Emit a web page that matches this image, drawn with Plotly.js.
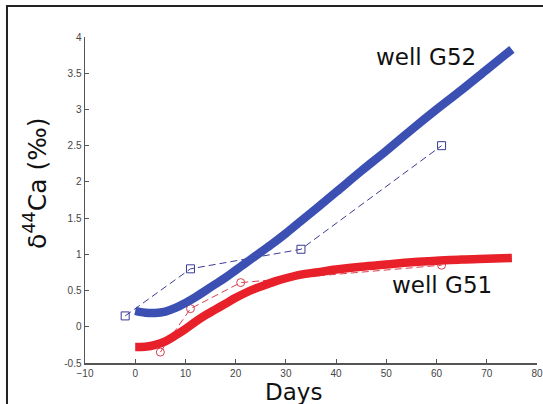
<!DOCTYPE html>
<html>
<head>
<meta charset="utf-8">
<script src="https://cdn.plot.ly/plotly-3.0.1.min.js"></script>
<style>html,body{margin:0;padding:0;background:#fff;}#chart{width:543px;height:404px;}</style>
</head>
<body>
<div id="chart"></div>
<script>
// Fitted model curves
const fitDays = [0,2,4,6,8,10,12,14,16,18,20,22,24,27,30,33,36,40,45,50,55,60,65,70,75];
const g52Fit = [0.22,0.195,0.19,0.21,0.26,0.33,0.41,0.5,0.59,0.68,0.78,0.88,0.98,1.13,1.29,1.46,1.63,1.86,2.15,2.43,2.72,3.0,3.27,3.55,3.83];
const fitDaysR = [0,2,4,6,8,10,12,14,16,18,20,22,24,26,28,30,33,36,40,45,50,55,60,65,70,75];
const g51Fit = [-0.28,-0.275,-0.25,-0.2,-0.12,-0.03,0.07,0.16,0.24,0.32,0.4,0.47,0.53,0.58,0.63,0.67,0.72,0.75,0.79,0.83,0.86,0.89,0.91,0.93,0.94,0.95];
// Measured values
const g52Days = [-2,11,33,61];
const g52Meas = [0.15,0.8,1.07,2.5];
const g51Days = [5,11,21,61];
const g51Meas = [-0.35,0.25,0.61,0.85];
const xTicks = [-10,0,10,20,30,40,50,60,70,80];
const yTicks = [-0.5,0,0.5,1,1.5,2,2.5,3,3.5,4];
const yTickText = ['-0.5','0','0.5','1','1.5','2','2.5','3','3.5','4'];
const xTitle = 'Days';
const yTitle = 'δ<sup>44</sup>Ca (‰)';
const labelG52 = 'well G52';
const labelG51 = 'well G51';

const blue = '#3c50b4';
const red = '#e8202a';
const bigFont = 'DejaVu Sans, Arial, sans-serif';

const traces = [
  {x: g52Days, y: g52Meas, mode: 'lines+markers', line: {color: '#3a3a96', width: 1, dash: '7px,4px'},
   marker: {symbol: 'square-open', size: 8, color: '#3a3a96', line: {width: 1}}},
  {x: g51Days, y: g51Meas, mode: 'lines+markers', line: {color: '#d84050', width: 1, dash: '7px,4px'},
   marker: {symbol: 'circle-open', size: 8, color: '#d84050', line: {width: 1}}},
  {x: fitDays, y: g52Fit, mode: 'lines', line: {color: blue, width: 8.5, shape: 'spline'}},
  {x: fitDaysR, y: g51Fit, mode: 'lines', line: {color: red, width: 8.5, shape: 'spline'}}
];

const layout = {
  width: 543, height: 404,
  margin: {l: 85, r: 6, t: 37, b: 41},
  paper_bgcolor: '#fff', plot_bgcolor: '#fff',
  showlegend: false,
  font: {family: 'Liberation Sans, Arial, sans-serif', color: '#333'},
  xaxis: {range: [-10, 80], tickvals: xTicks, ticks: 'inside', ticklen: 4, tickcolor: '#555',
          showline: true, linecolor: '#555', linewidth: 1.5, showgrid: false, zeroline: false,
          tickfont: {size: 10, color: '#444'}},
  yaxis: {range: [-0.5, 4], tickvals: yTicks, ticktext: yTickText, ticks: 'inside', ticklen: 4, tickcolor: '#555',
          showline: true, linecolor: '#555', linewidth: 1.5, showgrid: false, zeroline: false,
          tickfont: {size: 10, color: '#444'}},
  annotations: [
    {x: 57.8, y: 3.73, xref: 'x', yref: 'y', xanchor: 'center', yanchor: 'middle', text: labelG52, showarrow: false,
     font: {family: bigFont, size: 23, color: '#111'}},
    {x: 61, y: 0.57, xref: 'x', yref: 'y', xanchor: 'center', yanchor: 'middle', text: labelG51, showarrow: false,
     font: {family: bigFont, size: 23, color: '#111'}},
    {x: 0.462, y: -0.089, xref: 'paper', yref: 'paper', xanchor: 'center', yanchor: 'middle', text: xTitle, showarrow: false,
     font: {family: bigFont, size: 23, color: '#111'}},
    {x: -0.108, y: 0.55, xref: 'paper', yref: 'paper', xanchor: 'center', yanchor: 'middle', text: yTitle, showarrow: false, textangle: -90,
     font: {family: bigFont, size: 25, color: '#111'}}
  ],
  shapes: [
    {type: 'rect', xref: 'paper', yref: 'paper', x0: -0.1726, x1: 1.2, y0: -0.3, y1: 1.095,
     line: {color: '#222', width: 2}, fillcolor: 'rgba(0,0,0,0)', layer: 'below'}
  ]
};

Plotly.newPlot('chart', traces, layout, {displayModeBar: false, staticPlot: true});
</script>
</body>
</html>
